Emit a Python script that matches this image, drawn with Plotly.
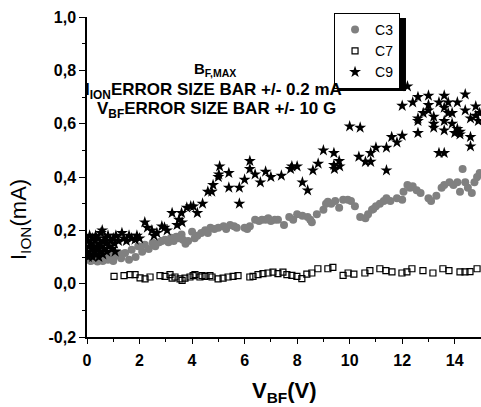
import plotly.graph_objects as go

# ---- C3 (grey filled circles) ----
c3_x = [0.0, 0.05, 0.1, 0.15, 0.2, 0.25, 0.3, 0.4, 0.45, 0.5,
        0.6, 0.7, 0.8, 0.9, 1.0, 1.1, 1.2, 1.3, 1.45, 1.6,
        1.7, 1.85, 1.95, 2.1, 2.2, 2.35, 2.5, 2.6, 2.75, 2.85,
        2.97, 3.1, 3.2, 3.3, 3.4, 3.5, 3.6, 3.65, 3.75, 3.85,
        4.0, 4.1, 4.2, 4.35, 4.5, 4.6, 4.7, 4.85, 5.0, 5.2,
        5.3, 5.45, 5.6, 5.7, 6.0, 6.1, 6.2, 6.4, 6.55, 6.66,
        6.8, 6.9, 7.0, 7.15, 7.27, 7.5, 7.7, 7.85, 8.0, 8.2,
        8.4, 8.5, 8.56, 8.75, 9.0, 9.1, 9.17, 9.3, 9.45, 9.6,
        9.75, 9.93, 10.05, 10.2, 10.4, 10.6, 10.7, 10.85, 10.9, 11.0,
        11.15, 11.3, 11.4, 11.55, 11.8, 12.0, 12.05, 12.2, 12.3, 12.4,
        12.55, 12.7, 13.0, 13.1, 13.3, 13.5, 13.6, 13.8, 13.95, 14.1,
        14.2, 14.3, 14.4, 14.5, 14.65, 14.75, 14.85, 14.95]
c3_y = [0.10, 0.09, 0.11, 0.085, 0.10, 0.12, 0.09, 0.083, 0.105, 0.095,
        0.085, 0.10, 0.09, 0.11, 0.085, 0.105, 0.115, 0.095, 0.115, 0.09,
        0.127, 0.10, 0.14, 0.12, 0.146, 0.13, 0.153, 0.14, 0.155, 0.16,
        0.165, 0.155, 0.172, 0.16, 0.176, 0.17, 0.184, 0.165, 0.15, 0.16,
        0.195, 0.17, 0.18, 0.19, 0.20, 0.19, 0.21, 0.205, 0.21, 0.215,
        0.205, 0.22, 0.215, 0.21, 0.21, 0.205, 0.215, 0.24, 0.235, 0.24,
        0.24, 0.245, 0.235, 0.24, 0.24, 0.22, 0.25, 0.24, 0.26, 0.255,
        0.25, 0.24, 0.23, 0.26, 0.277, 0.30, 0.307, 0.30, 0.31, 0.285,
        0.315, 0.315, 0.31, 0.29, 0.25, 0.245, 0.26, 0.277, 0.28, 0.29,
        0.30, 0.31, 0.32, 0.31, 0.32, 0.315, 0.345, 0.37, 0.36, 0.365,
        0.35, 0.34, 0.32, 0.31, 0.33, 0.36, 0.37, 0.38, 0.37, 0.38,
        0.345, 0.43, 0.38, 0.36, 0.34, 0.38, 0.40, 0.415]

# ---- C7 (open squares) ----
c7_x = [1.03, 1.41, 1.64, 1.83, 2.02, 2.21, 2.40, 2.78, 2.97, 3.16,
        3.24, 3.35, 3.54, 3.62, 3.73, 3.92, 4.04, 4.11, 4.30, 4.38,
        4.49, 4.68, 4.76, 4.99, 5.18, 5.37, 5.56, 5.75, 6.20, 6.32,
        6.51, 6.70, 6.89, 7.08, 7.27, 7.46, 7.61, 7.80, 7.99, 8.18,
        8.37, 8.56, 8.79, 9.17, 9.36, 9.75, 9.94, 10.16, 10.58, 10.77,
        11.15, 11.38, 11.61, 11.99, 12.18, 12.37, 12.79, 13.17, 13.55, 13.78,
        14.20, 14.39, 14.58, 14.85]
c7_y = [0.027, 0.03, 0.034, 0.034, 0.022, 0.018, 0.025, 0.03, 0.027, 0.034,
        0.021, 0.025, 0.018, 0.012, 0.021, 0.025, 0.03, 0.034, 0.025, 0.03,
        0.027, 0.03, 0.025, 0.018, 0.021, 0.025, 0.027, 0.03, 0.025, 0.027,
        0.034, 0.0375, 0.04, 0.043, 0.0375, 0.043, 0.034, 0.031, 0.027, 0.019,
        0.036, 0.04, 0.056, 0.056, 0.061, 0.031, 0.04, 0.036, 0.04, 0.049,
        0.056, 0.049, 0.044, 0.04, 0.044, 0.056, 0.049, 0.04, 0.056, 0.049,
        0.044, 0.044, 0.045, 0.056]

# ---- C9 (black stars) ----
c9_x = [0.0, 0.03, 0.05, 0.08, 0.1, 0.12, 0.15, 0.18, 0.2, 0.22,
        0.25, 0.28, 0.3, 0.33, 0.35, 0.38, 0.4, 0.43, 0.45, 0.48,
        0.5, 0.53, 0.55, 0.58, 0.6, 0.63, 0.65, 0.7, 0.72, 0.75,
        0.8, 0.85, 0.9, 0.95, 1.0, 1.05, 1.07, 1.1, 1.2, 1.33,
        1.4, 1.5, 1.6, 1.7, 1.83, 1.9, 2.0, 2.2, 2.3, 2.47,
        2.55, 2.66, 2.85, 2.95, 3.05, 3.24, 3.43, 3.5, 3.6, 3.62,
        3.8, 3.95, 4.05, 4.2, 4.4, 4.6, 4.75, 4.8, 5.0, 5.02,
        5.05, 5.4, 5.4, 5.8, 5.8, 6.0, 6.2, 6.2, 6.4, 6.6,
        6.8, 7.0, 7.4, 7.75, 7.8, 8.0, 8.2, 8.4, 8.6, 8.8,
        9.0, 9.4, 9.4, 9.42, 9.6, 9.62, 10.0, 10.35, 10.4, 10.6,
        10.8, 10.8, 11.0, 11.4, 11.4, 11.6, 11.8, 12.0, 12.0, 12.2,
        12.4, 12.6, 12.6, 12.6, 12.6, 12.8, 13.0, 13.0, 13.0, 13.2,
        13.2, 13.2, 13.4, 13.4, 13.6, 13.6, 13.6, 13.6, 13.6, 13.75,
        13.75, 13.9, 13.9, 14.0, 14.1, 14.1, 14.2, 14.2, 14.4, 14.4,
        14.6, 14.6, 14.6, 14.8, 14.8, 14.9, 14.95]
c9_y = [0.12, 0.16, 0.10, 0.14, 0.18, 0.11, 0.15, 0.13, 0.17, 0.10,
        0.14, 0.12, 0.16, 0.18, 0.11, 0.14, 0.13, 0.17, 0.10, 0.15,
        0.12, 0.19, 0.14, 0.20, 0.11, 0.16, 0.13, 0.17, 0.15, 0.12,
        0.18, 0.14, 0.16, 0.13, 0.17, 0.15, 0.12, 0.18, 0.16, 0.19,
        0.17, 0.16, 0.18, 0.17, 0.165, 0.18, 0.17, 0.23, 0.21, 0.20,
        0.18, 0.19, 0.215, 0.21, 0.20, 0.265, 0.22, 0.24, 0.265, 0.23,
        0.285, 0.29, 0.29, 0.265, 0.30, 0.345, 0.345, 0.37, 0.40, 0.41,
        0.44, 0.415, 0.36, 0.36, 0.30, 0.39, 0.46, 0.43, 0.41, 0.38,
        0.42, 0.40, 0.405, 0.43, 0.44, 0.44, 0.38, 0.35, 0.425, 0.45,
        0.50, 0.49, 0.445, 0.43, 0.46, 0.44, 0.59, 0.476, 0.585, 0.457,
        0.457, 0.49, 0.51, 0.51, 0.425, 0.55, 0.53, 0.555, 0.667, 0.74,
        0.68, 0.70, 0.62, 0.61, 0.565, 0.64, 0.705, 0.67, 0.65, 0.626,
        0.60, 0.585, 0.68, 0.49, 0.49, 0.705, 0.66, 0.61, 0.575, 0.68,
        0.64, 0.64, 0.60, 0.565, 0.68, 0.58, 0.56, 0.57, 0.71, 0.65,
        0.62, 0.55, 0.515, 0.665, 0.63, 0.61, 0.64]

# ---- tick labels ----
y_tickvals = [-0.2, 0.0, 0.2, 0.4, 0.6, 0.8, 1.0]
y_ticktext = ["-0,2", "0,0", "0,2", "0,4", "0,6", "0,8", "1,0"]
x_tickvals = [0, 2, 4, 6, 8, 10, 12, 14]
x_ticktext = ["0", "2", "4", "6", "8", "10", "12", "14"]

FONT = "Liberation Sans, Arial, sans-serif"

fig = go.Figure()
fig.add_trace(go.Scatter(x=c3_x, y=c3_y, mode="markers", name="C3",
                         marker=dict(symbol="circle", size=8, color="rgb(128,128,128)",
                                     line=dict(width=0))))
fig.add_trace(go.Scatter(x=c7_x, y=c7_y, mode="markers", name="C7",
                         marker=dict(symbol="square-open", size=6, color="black",
                                     line=dict(width=1.2, color="black"))))
fig.add_trace(go.Scatter(x=c9_x, y=c9_y, mode="markers", name="C9",
                         marker=dict(symbol="star", size=9, color="black",
                                     line=dict(width=0))))

def px2x(px):
    return (px - 87) / 394.0

def px2y(py):
    return (337 - py) / 320.0

# legend drop shadow
fig.add_shape(type="rect", xref="paper", yref="paper",
              x0=0.6396, x1=0.8096, y0=0.769, y1=0.997,
              fillcolor="black", line=dict(width=0), layer="above")

ann_font = dict(family=FONT, size=17, color="black", weight="bold")
fig.add_annotation(text="B<sub>F,MAX</sub>", xref="paper", yref="paper",
                   x=px2x(215), y=px2y(69), xanchor="center", yanchor="middle",
                   showarrow=False,
                   font=dict(family=FONT, size=15, color="black", weight="bold"))
fig.add_annotation(text="I<sub>ION</sub>ERROR SIZE BAR +/- 0.2 mA", xref="paper", yref="paper",
                   x=px2x(213), y=px2y(91), xanchor="center", yanchor="middle",
                   showarrow=False, font=ann_font)
fig.add_annotation(text="V<sub>BF</sub>ERROR SIZE BAR +/- 10 G", xref="paper", yref="paper",
                   x=px2x(216), y=px2y(110), xanchor="center", yanchor="middle",
                   showarrow=False, font=ann_font)

# axis titles
fig.add_annotation(text="I<sub>ION</sub>(mA)", xref="paper", yref="paper",
                   x=px2x(20), y=px2y(220), xanchor="center", yanchor="middle",
                   textangle=-90, showarrow=False,
                   font=dict(family=FONT, size=22, color="black"))
fig.add_annotation(text="V<sub>BF</sub>(V)", xref="paper", yref="paper",
                   x=0.5, y=px2y(392), xanchor="center", yanchor="middle",
                   showarrow=False,
                   font=dict(family=FONT, size=22, color="black", weight="bold"))

tick_font = dict(family=FONT, size=16, color="black", weight="bold")
fig.update_xaxes(range=[0, 15], tickmode="array", tickvals=x_tickvals, ticktext=x_ticktext,
                 showline=True, linecolor="black", linewidth=1.5,
                 ticks="outside", ticklen=5, tickwidth=1, tickcolor="black",
                 minor=dict(ticks="outside", ticklen=3, dtick=1, tick0=0, tickcolor="black"),
                 showgrid=False, zeroline=False, tickfont=tick_font, ticklabelstandoff=3)
fig.update_yaxes(range=[-0.2, 1.0], tickmode="array", tickvals=y_tickvals, ticktext=y_ticktext,
                 showline=True, linecolor="black", linewidth=1.5,
                 ticks="outside", ticklen=6, tickwidth=1, tickcolor="black",
                 minor=dict(ticks="outside", ticklen=3, dtick=0.1, tick0=0, tickcolor="black"),
                 showgrid=False, zeroline=False, tickfont=tick_font)

fig.update_layout(
    width=481, height=407,
    margin=dict(l=87, r=0, t=17, b=70),
    paper_bgcolor="white", plot_bgcolor="white",
    showlegend=True,
    legend=dict(x=0.627, y=1.0125, xanchor="left", yanchor="top",
                bgcolor="white", bordercolor="black", borderwidth=1,
                font=dict(family=FONT, size=14, color="black"),
                tracegroupgap=0, itemwidth=30),
)

fig.write_html("out.html")
